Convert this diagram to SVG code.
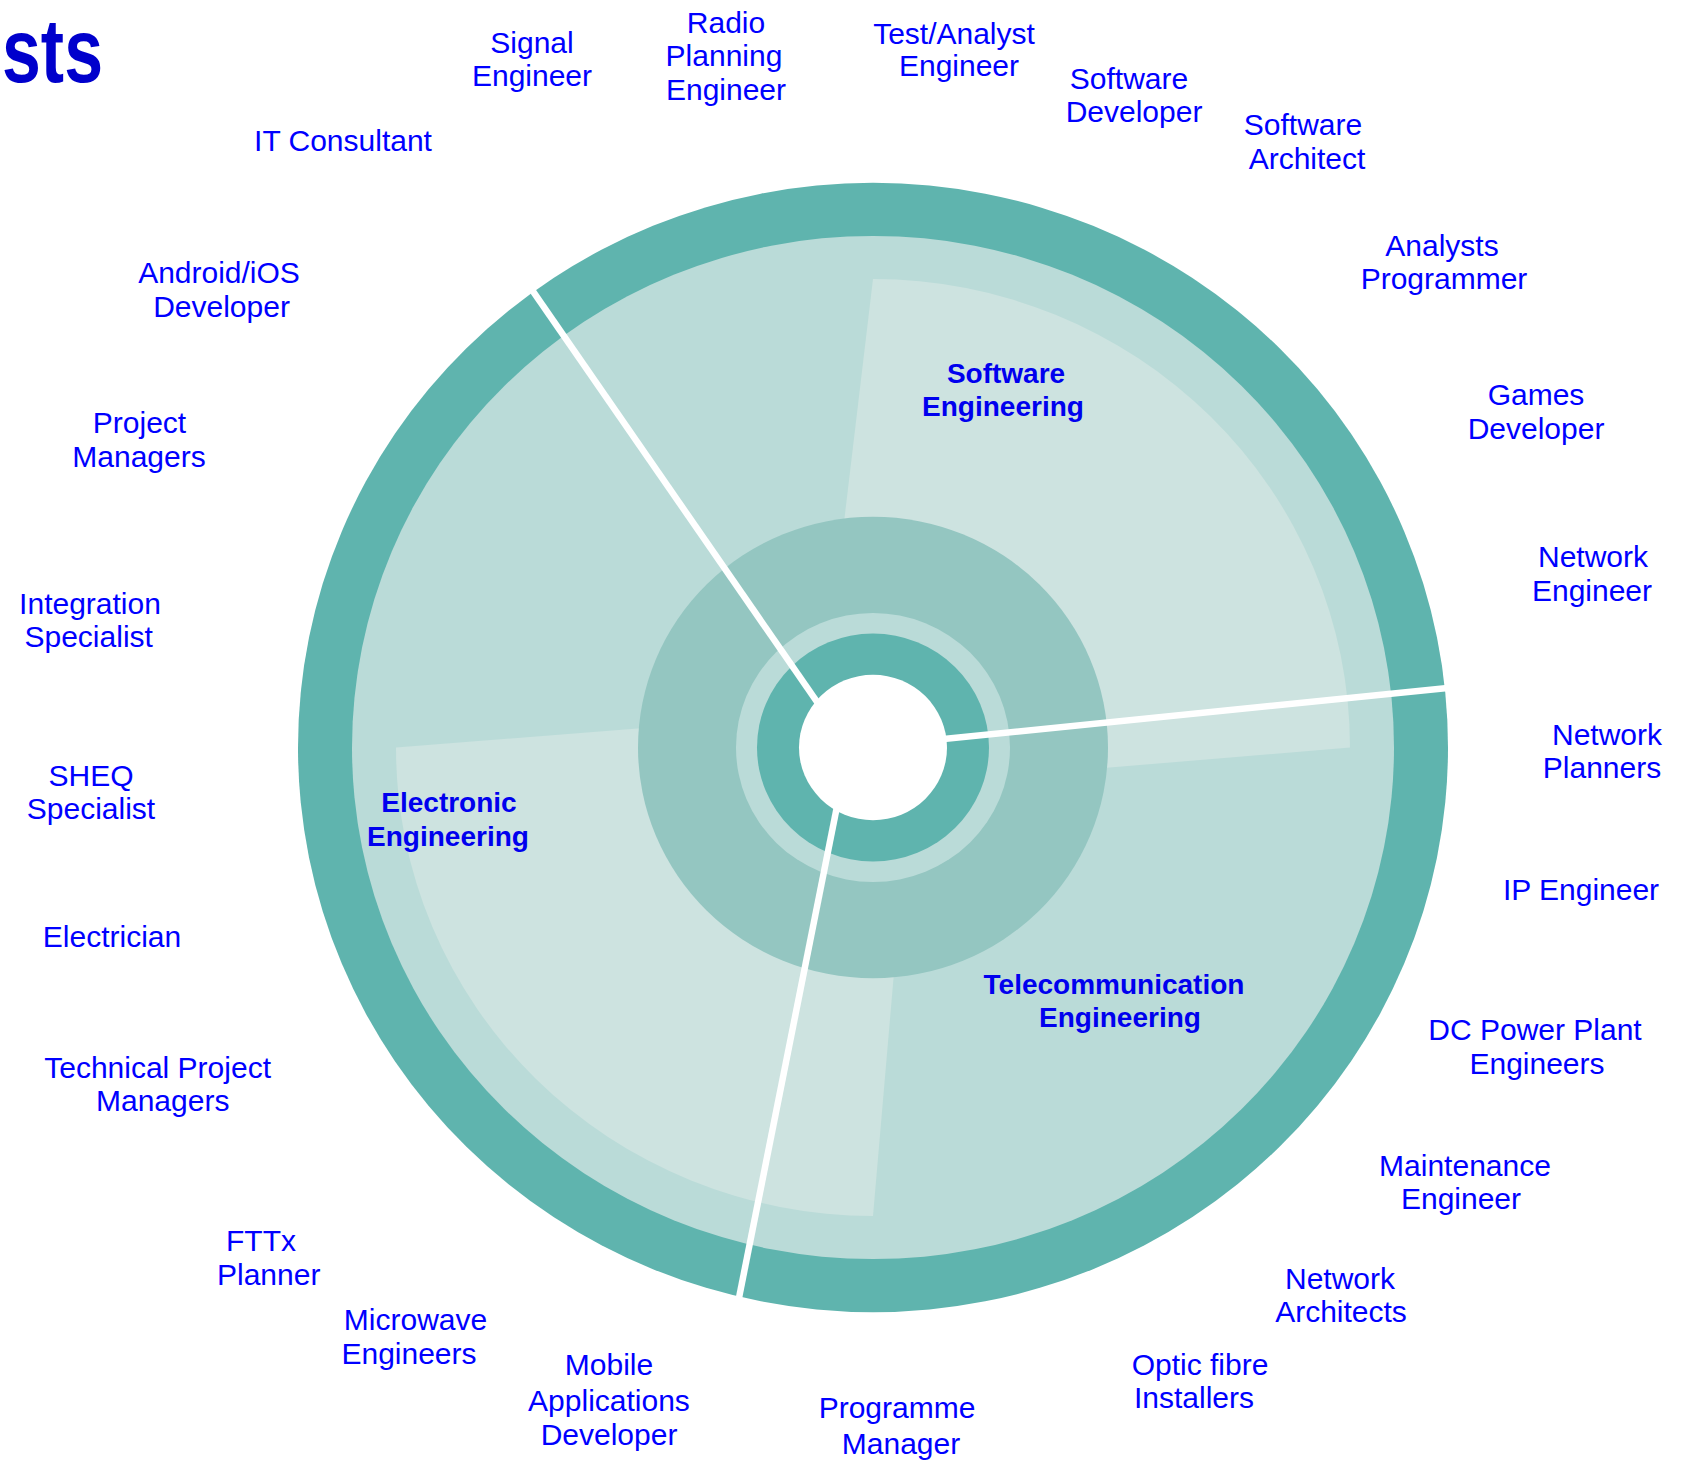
<svg xmlns="http://www.w3.org/2000/svg" width="1682" height="1460" viewBox="0 0 1682 1460">
<style>
.lbl{font-family:"Liberation Sans",Arial,sans-serif;font-size:30px;fill:#0000ff;text-anchor:middle}
.sec{font-family:"Liberation Sans",Arial,sans-serif;font-size:28px;font-weight:bold;fill:#0000ee;text-anchor:middle}
.title{font-family:"Liberation Sans",Arial,sans-serif;font-size:90px;font-weight:bold;fill:#0000cc}
.div{stroke:#ffffff;stroke-width:6.5;fill:none}
</style>
<rect width="1682" height="1460" fill="#ffffff"/>
<text class="title" x="2" y="82" textLength="101" lengthAdjust="spacingAndGlyphs">sts</text>
<g id="wheel" transform="translate(873,747.5) scale(1,0.982)">
<circle r="575" fill="#5fb4ae"/>
<circle r="521" fill="#badbd8"/>
<path d="M0,-477 A477,477 0 0 1 477,0 L-61.2,45.7 Z" fill="#cde3e0"/>
<path d="M-477,0 L44,-41.7 L0,477 A477,477 0 0 1 -477,0 Z" fill="#cde3e0"/>
<circle r="235" fill="#94c6c1"/>
<circle r="137" fill="#badbd8"/>
<circle r="116" fill="#5fb4ae"/>
<circle r="74" fill="#ffffff"/>
</g>
<g id="dividers">
<line class="div" x1="821.7" y1="708.7" x2="528.7" y2="285.1"/>
<line class="div" x1="936.2" y1="739.8" x2="1460" y2="686.7"/>
<line class="div" x1="838.3" y1="799.8" x2="736.6" y2="1309.8"/>
</g>
<g id="sector-software"><text class="sec" x="1006" y="383">Software</text><text class="sec" x="1003" y="416">Engineering</text></g>
<g id="sector-electronic"><text class="sec" x="449" y="812">Electronic</text><text class="sec" x="448" y="845.5">Engineering</text></g>
<g id="sector-telecom"><text class="sec" x="1114" y="994">Telecommunication</text><text class="sec" x="1120" y="1027">Engineering</text></g>
<g id="signal-engineer"><text class="lbl" x="532" y="52.6">Signal</text><text class="lbl" x="532" y="86">Engineer</text></g>
<g id="radio-planning-engineer"><text class="lbl" x="726" y="32.6">Radio</text><text class="lbl" x="724" y="66.4">Planning</text><text class="lbl" x="726" y="100">Engineer</text></g>
<g id="test-analyst-engineer"><text class="lbl" x="954" y="44.2">Test/Analyst</text><text class="lbl" x="959" y="76">Engineer</text></g>
<g id="software-developer"><text class="lbl" x="1129" y="88.5">Software</text><text class="lbl" x="1134" y="122">Developer</text></g>
<g id="software-architect"><text class="lbl" x="1303" y="135">Software</text><text class="lbl" x="1307" y="168.5">Architect</text></g>
<g id="analysts-programmer"><text class="lbl" x="1442" y="256">Analysts</text><text class="lbl" x="1444" y="288.6">Programmer</text></g>
<g id="games-developer"><text class="lbl" x="1536" y="405">Games</text><text class="lbl" x="1536" y="438.5">Developer</text></g>
<g id="network-engineer"><text class="lbl" x="1593" y="567">Network</text><text class="lbl" x="1592" y="600.6">Engineer</text></g>
<g id="network-planners"><text class="lbl" x="1607" y="744.5">Network</text><text class="lbl" x="1602" y="778">Planners</text></g>
<g id="ip-engineer"><text class="lbl" x="1581" y="900">IP Engineer</text></g>
<g id="dc-power-plant-engineers"><text class="lbl" x="1535" y="1039.6">DC Power Plant</text><text class="lbl" x="1537" y="1073.6">Engineers</text></g>
<g id="maintenance-engineer"><text class="lbl" x="1465" y="1175.5">Maintenance</text><text class="lbl" x="1461" y="1208.6">Engineer</text></g>
<g id="network-architects"><text class="lbl" x="1340" y="1288.7">Network</text><text class="lbl" x="1341" y="1322">Architects</text></g>
<g id="optic-fibre-installers"><text class="lbl" x="1200" y="1374.8">Optic fibre</text><text class="lbl" x="1194" y="1408.3">Installers</text></g>
<g id="programme-manager"><text class="lbl" x="897" y="1418">Programme</text><text class="lbl" x="901" y="1454">Manager</text></g>
<g id="mobile-applications-developer"><text class="lbl" x="609" y="1374.8">Mobile</text><text class="lbl" x="609" y="1410.6">Applications</text><text class="lbl" x="609" y="1444.6">Developer</text></g>
<g id="microwave-engineers"><text class="lbl" x="415.5" y="1329.6">Microwave</text><text class="lbl" x="409" y="1364">Engineers</text></g>
<g id="fttx-planner"><text class="lbl" x="261" y="1251.4">FTTx</text><text class="lbl" x="268.7" y="1285">Planner</text></g>
<g id="technical-project-managers"><text class="lbl" x="157.6" y="1078.2">Technical Project</text><text class="lbl" x="162.7" y="1110.8">Managers</text></g>
<g id="electrician"><text class="lbl" x="112" y="946.5">Electrician</text></g>
<g id="sheq-specialist"><text class="lbl" x="91" y="786">SHEQ</text><text class="lbl" x="91" y="819.4">Specialist</text></g>
<g id="integration-specialist"><text class="lbl" x="90" y="613.6">Integration</text><text class="lbl" x="88.7" y="647">Specialist</text></g>
<g id="project-managers"><text class="lbl" x="139.5" y="433">Project</text><text class="lbl" x="139" y="466.5">Managers</text></g>
<g id="android-ios-developer"><text class="lbl" x="219" y="282.6">Android/iOS</text><text class="lbl" x="221.5" y="316.6">Developer</text></g>
<g id="it-consultant"><text class="lbl" x="343" y="151.3">IT Consultant</text></g>
</svg>
